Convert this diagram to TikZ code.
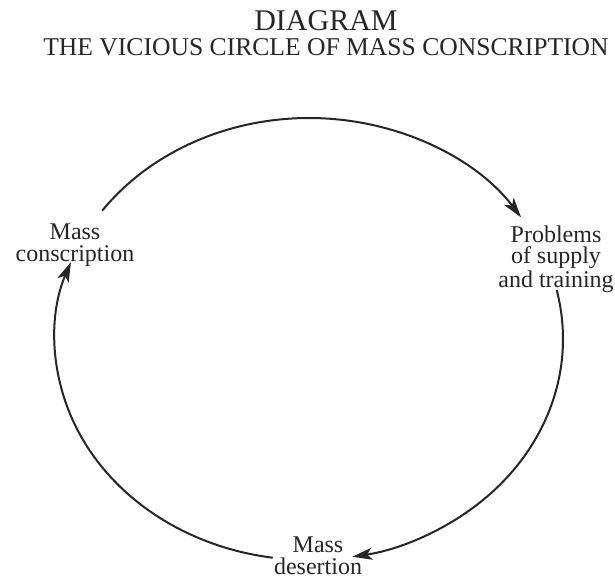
\documentclass[tikz,border=0pt]{standalone}
\usepackage{fontspec}
\setmainfont{Liberation Serif}
\usetikzlibrary{arrows.meta}

\begin{document}
\begin{tikzpicture}[
  x=0.5pt, y=-0.5pt,
  heading/.style={inner sep=0pt, text=black!85},
  phase/.style={align=center, inner sep=0pt, text=black!85, font=\fontsize{12}{10.8}\selectfont},
  loop arrow/.style={-{Stealth[length=10pt, width=6pt, inset=2.5pt]}, line width=1pt, draw=black!85}
]
\useasboundingbox (0,0) rectangle (615,582);
\node[heading, font=\fontsize{15}{18}\selectfont] (title) at (326,21) {DIAGRAM};
\node[heading, font=\fontsize{12.8}{15}\selectfont] (subtitle) at (326,47) {THE VICIOUS CIRCLE OF MASS CONSCRIPTION};
\node[phase] (conscription) at (75,245) {Mass\\conscription};
\node[phase] (supply) at (556,259) {Problems\\of supply\\and training};
\node[phase] (desertion) at (318,556) {Mass\\desertion};
% the three arcs lie on one ellipse round the hub
\coordinate (hub) at (309,339);
\draw[loop arrow] (hub) ++(144.5:127pt and 110.5pt) arc[start angle=144.5, end angle=33.4, x radius=127pt, y radius=110.5pt];
\draw[loop arrow] (hub) ++(12.8:127pt and 110.5pt) arc[start angle=12.8, end angle=-80.2, x radius=127pt, y radius=110.5pt];
\draw[loop arrow] (hub) ++(261.8:127pt and 110.5pt) arc[start angle=261.8, end angle=159.6, x radius=127pt, y radius=110.5pt];
\end{tikzpicture}
\end{document}
